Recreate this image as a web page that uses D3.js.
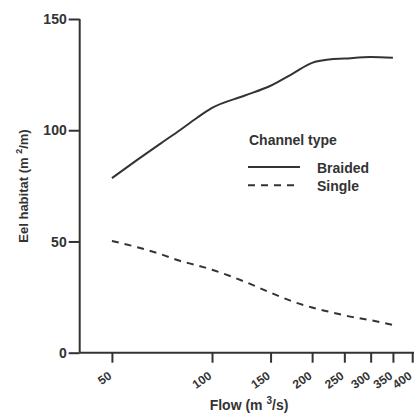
<!DOCTYPE html>
<html>
<head>
<meta charset="utf-8">
<script src="https://cdn.jsdelivr.net/npm/d3@7"></script>
<style>
  body { margin: 0; background: #fff; }
  text { font-family: "Liberation Sans", Arial, sans-serif; font-weight: bold; fill: #333; }
</style>
</head>
<body>
<svg></svg>
<script>
// données
const flows = [50, 60, 70, 80, 90, 100, 125, 150, 175, 200, 225, 250, 300, 350];
const braided = [78.5, 87, 94, 100, 105.5, 110, 115.5, 120, 125.5, 130.3, 131.8, 132.2, 132.9, 132.6];
const single = [50.2, 47.3, 44.3, 41.3, 39.3, 37.3, 32, 27, 23, 20.3, 18.4, 16.8, 14.6, 12.5];
const xTicks = [50, 100, 150, 200, 250, 300, 350, 400];
const yTicks = [0, 50, 100, 150];

const width = 414, height = 415;
const svg = d3.select("svg").attr("width", width).attr("height", height);
const ink = "#333";

const x = d3.scaleLog().domain([40, 405]).range([79.7, 414]);
const y = d3.scaleLinear().domain([0, 150]).range([352.7, 19]);

// axe y
const gy = svg.append("g").attr("transform", "translate(79.7,0)")
    .call(d3.axisLeft(y).tickValues(yTicks).tickSize(11).tickPadding(2).tickFormat(d3.format("d")));
gy.select(".domain").attr("stroke", ink).attr("stroke-width", 2).attr("d", "M0," + y(150) + "V" + y(0));
gy.selectAll(".tick line").attr("stroke", ink).attr("stroke-width", 2);
gy.selectAll(".tick text").attr("font-size", 14).attr("fill", ink).attr("dy", "0.34em");

// axe x
const gx = svg.append("g").attr("transform", "translate(0,352.7)")
    .call(d3.axisBottom(x).tickValues(xTicks).tickSize(10).tickFormat(d3.format("d")));
gx.select(".domain").attr("stroke", ink).attr("stroke-width", 2).attr("d", "M79.7,0H414");
gx.selectAll(".tick line").attr("stroke", ink).attr("stroke-width", 2);
gx.selectAll(".tick text")
    .attr("font-size", 12).attr("fill", ink)
    .attr("text-anchor", "end")
    .attr("dy", 0).attr("y", 0)
    .attr("transform", "translate(0,25) rotate(-35)");

// titres
svg.append("text").attr("x", 249).attr("y", 410).attr("text-anchor", "middle").attr("font-size", 14)
    .html('Flow (m <tspan dy="-6" font-size="10">3</tspan><tspan dy="6">/s)</tspan>');
svg.append("text").attr("transform", "translate(28,186) rotate(-90)").attr("text-anchor", "middle").attr("font-size", 13)
    .html('Eel habitat (m <tspan dy="-6" font-size="9">2</tspan><tspan dy="6">/m)</tspan>');

// courbes
const line = d3.line().x(d => x(d[0])).y(d => y(d[1])).curve(d3.curveMonotoneX);
svg.append("path").datum(flows.map((f, i) => [f, braided[i]]))
    .attr("d", line).attr("fill", "none").attr("stroke", ink).attr("stroke-width", 2);
svg.append("path").datum(flows.map((f, i) => [f, single[i]]))
    .attr("d", line).attr("fill", "none").attr("stroke", ink).attr("stroke-width", 2)
    .attr("stroke-dasharray", "7,6");

// légende
const lg = svg.append("g");
lg.append("text").attr("x", 249).attr("y", 145).attr("font-size", 14).text("Channel type");
lg.append("line").attr("x1", 248).attr("x2", 300).attr("y1", 167).attr("y2", 167).attr("stroke", ink).attr("stroke-width", 2);
lg.append("line").attr("x1", 248).attr("x2", 298).attr("y1", 185.3).attr("y2", 185.3).attr("stroke", ink).attr("stroke-width", 2).attr("stroke-dasharray", "7,6");
lg.append("text").attr("x", 317).attr("y", 172.5).attr("font-size", 14).text("Braided");
lg.append("text").attr("x", 317).attr("y", 191).attr("font-size", 14).text("Single");
</script>
</body>
</html>
